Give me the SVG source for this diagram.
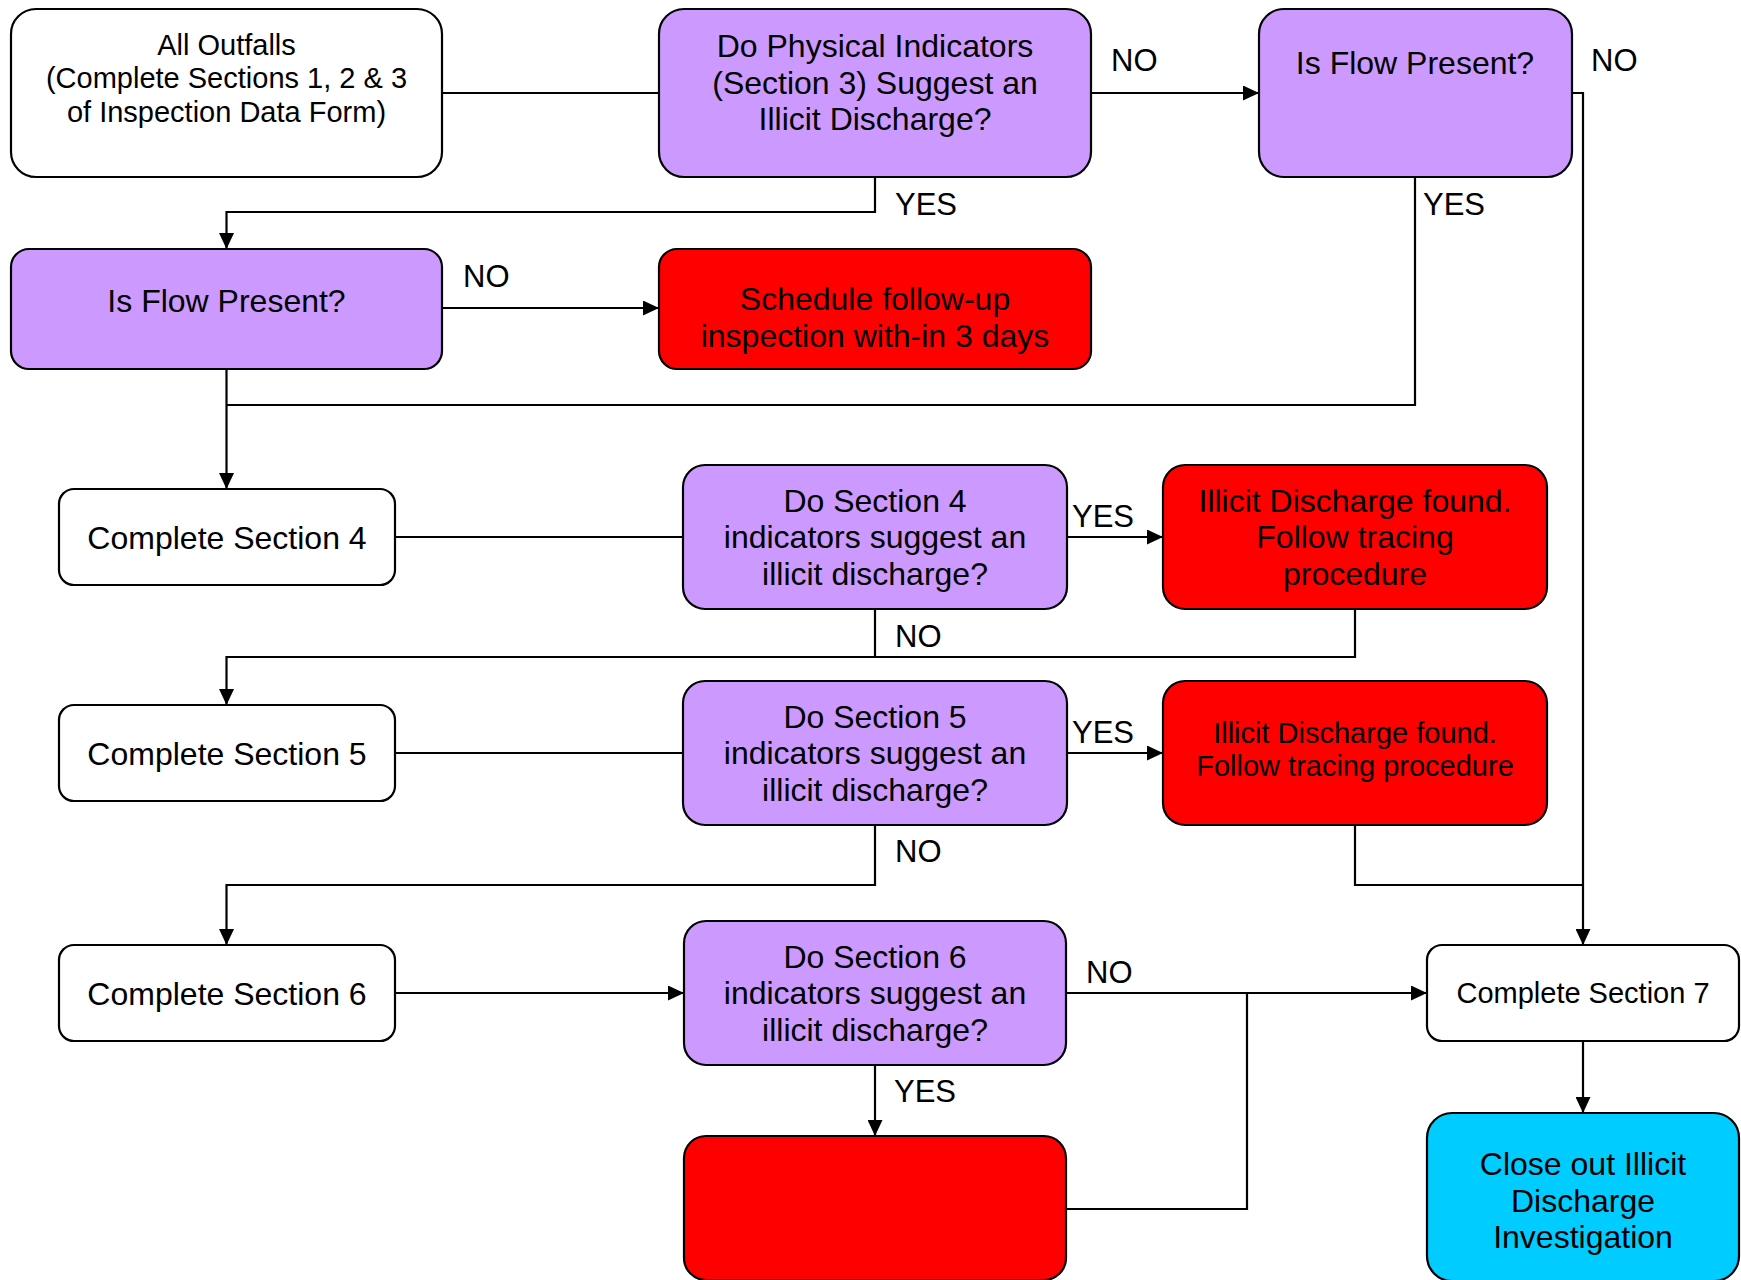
<svg xmlns="http://www.w3.org/2000/svg" width="1741" height="1280" viewBox="0 0 1741 1280">
<defs>
<style>
.box{stroke:#000;stroke-width:2.2}
.w{fill:#fff}.p{fill:#CC99FF}.r{fill:#FF0000}.c{fill:#00CCFF}
text{font-family:"Liberation Sans",Arial,sans-serif;fill:#000}
.t{font-size:32px;text-anchor:middle}
.s{font-size:29px;text-anchor:middle}
.l{font-size:31px}
.con path{fill:none;stroke:#000;stroke-width:2.2}
</style>
<marker id="arr" markerUnits="userSpaceOnUse" markerWidth="16" markerHeight="15" refX="16" refY="7.5" orient="auto">
<path d="M0,0 L16,7.5 L0,15 z" fill="#000"/>
</marker>
</defs>
<rect width="1741" height="1280" fill="#fff"/>

<g class="con">
<path d="M442,93 H659"/>
<path d="M1091,93 H1259" marker-end="url(#arr)"/>
<path d="M875,177 V212 H226.5 V249" marker-end="url(#arr)"/>
<path d="M1572,93 H1583 V945" marker-end="url(#arr)"/>
<path d="M1415,177 V405 H226.5"/>
<path d="M442,308 H659" marker-end="url(#arr)"/>
<path d="M226.5,369 V489" marker-end="url(#arr)"/>
<path d="M395,537 H683"/>
<path d="M1067,537 H1163" marker-end="url(#arr)"/>
<path d="M875,609 V657 H226.5 V705" marker-end="url(#arr)"/>
<path d="M1355,609 V657 H875"/>
<path d="M395,753 H683"/>
<path d="M1067,753 H1163" marker-end="url(#arr)"/>
<path d="M875,825 V885 H226.5 V945" marker-end="url(#arr)"/>
<path d="M1355,825 V885 H1583"/>
<path d="M395,993 H684" marker-end="url(#arr)"/>
<path d="M1066,993 H1427" marker-end="url(#arr)"/>
<path d="M875,1065 V1136" marker-end="url(#arr)"/>
<path d="M1066,1209 H1247 V993"/>
<path d="M1583,1041 V1113" marker-end="url(#arr)"/>
</g>

<g id="labels" class="l">
<text x="1111" y="71">NO</text>
<text x="1591" y="71">NO</text>
<text x="895" y="215">YES</text>
<text x="1423" y="215">YES</text>
<text x="463" y="287">NO</text>
<text x="1072" y="527">YES</text>
<text x="895" y="647">NO</text>
<text x="1072" y="743">YES</text>
<text x="895" y="862">NO</text>
<text x="1086" y="983">NO</text>
<text x="894" y="1102">YES</text>
</g>

<g id="all-outfalls">
<rect class="box w" x="11" y="9" width="431" height="168" rx="25"/>
<text class="s" x="226.5" y="55">All Outfalls</text>
<text class="s" x="226.5" y="88.3">(Complete Sections 1, 2 &amp; 3</text>
<text class="s" x="226.5" y="121.6">of Inspection Data Form)</text>
</g>

<g id="physical-indicators">
<rect class="box p" x="659" y="9" width="432" height="168" rx="25"/>
<text class="t" x="875" y="57">Do Physical Indicators</text>
<text class="t" x="875" y="93.5">(Section 3) Suggest an</text>
<text class="t" x="875" y="130">Illicit Discharge?</text>
</g>

<g id="flow-present-1">
<rect class="box p" x="1259" y="9" width="313" height="168" rx="25"/>
<text class="t" x="1415" y="74">Is Flow Present?</text>
</g>

<g id="flow-present-2">
<rect class="box p" x="11" y="249" width="431" height="120" rx="18"/>
<text class="t" x="226.5" y="311.7">Is Flow Present?</text>
</g>

<g id="schedule-followup">
<rect class="box r" x="659" y="249" width="432" height="120" rx="18"/>
<text class="t" x="875" y="310">Schedule follow-up</text>
<text class="t" x="875" y="347">inspection with-in 3 days</text>
</g>

<g id="complete-4">
<rect class="box w" x="59" y="489" width="336" height="96" rx="15"/>
<text class="t" x="227" y="549">Complete Section 4</text>
</g>

<g id="section-4-question">
<rect class="box p" x="683" y="465" width="384" height="144" rx="22"/>
<text class="t" x="875" y="511.7">Do Section 4</text>
<text class="t" x="875" y="548.3">indicators suggest an</text>
<text class="t" x="875" y="585">illicit discharge?</text>
</g>

<g id="found-4">
<rect class="box r" x="1163" y="465" width="384" height="144" rx="22"/>
<text class="t" x="1355" y="511.7">Illicit Discharge found.</text>
<text class="t" x="1355" y="548.3">Follow tracing</text>
<text class="t" x="1355" y="585">procedure</text>
</g>

<g id="complete-5">
<rect class="box w" x="59" y="705" width="336" height="96" rx="15"/>
<text class="t" x="227" y="765">Complete Section 5</text>
</g>

<g id="section-5-question">
<rect class="box p" x="683" y="681" width="384" height="144" rx="22"/>
<text class="t" x="875" y="727.5">Do Section 5</text>
<text class="t" x="875" y="764">indicators suggest an</text>
<text class="t" x="875" y="800.5">illicit discharge?</text>
</g>

<g id="found-5">
<rect class="box r" x="1163" y="681" width="384" height="144" rx="22"/>
<text class="s" x="1355" y="743">Illicit Discharge found.</text>
<text class="s" x="1355" y="776">Follow tracing procedure</text>
</g>

<g id="complete-6">
<rect class="box w" x="59" y="945" width="336" height="96" rx="15"/>
<text class="t" x="227" y="1005">Complete Section 6</text>
</g>

<g id="section-6-question">
<rect class="box p" x="684" y="921" width="382" height="144" rx="22"/>
<text class="t" x="875" y="967.5">Do Section 6</text>
<text class="t" x="875" y="1004">indicators suggest an</text>
<text class="t" x="875" y="1040.5">illicit discharge?</text>
</g>

<g id="found-6">
<rect class="box r" x="684" y="1136" width="382" height="144" rx="22"/>
</g>

<g id="complete-7">
<rect class="box w" x="1427" y="945" width="312" height="96" rx="15"/>
<text class="s" x="1583" y="1003">Complete Section 7</text>
</g>

<g id="close-out">
<rect class="box c" x="1427" y="1113" width="312" height="168" rx="25"/>
<text class="t" x="1583" y="1175">Close out Illicit</text>
<text class="t" x="1583" y="1211.7">Discharge</text>
<text class="t" x="1583" y="1248">Investigation</text>
</g>
</svg>
